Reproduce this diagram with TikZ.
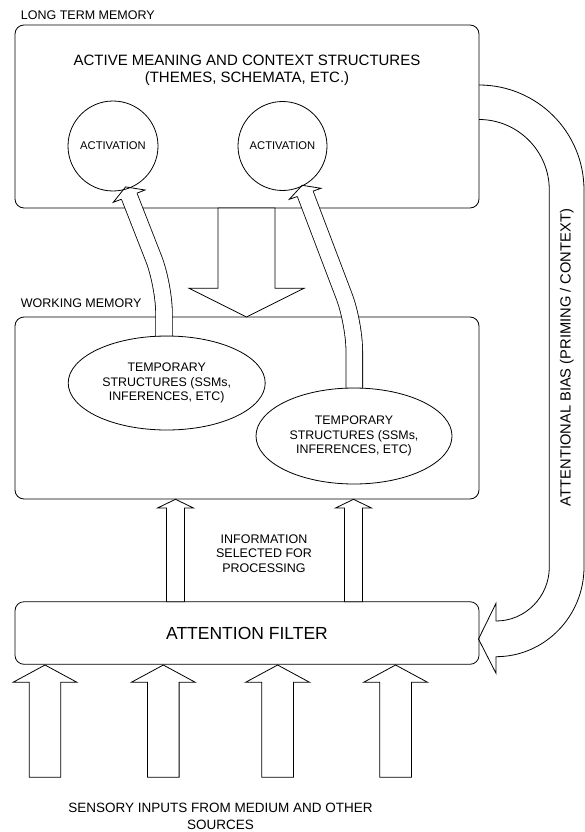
\documentclass[tikz,border=0pt]{standalone}
\usepackage{fontspec}
\setmainfont{Liberation Sans}
\usetikzlibrary{shapes.geometric}
\newcommand\fsz[2]{\fontsize{#1}{#2}\selectfont}
% block arrow: cx, tip y, head-base y, tail y, shaft half width, head half width
\newcommand\BlkArrow[6]{%
  \filldraw[fill=white] ({#1-#5},{#4}) -- ({#1-#5},{#3}) -- ({#1-#6},{#3}) -- ({#1},{#2})
    -- ({#1+#6},{#3}) -- ({#1+#5},{#3}) -- ({#1+#5},{#4}) -- cycle;}
\begin{document}
\begin{tikzpicture}[x=1pt,y=-1pt,line width=0.8pt,line join=miter,
  membox/.style={draw,rounded corners=9pt,minimum width=464pt,inner sep=0pt},
  actcirc/.style={draw,circle,inner sep=0pt,font=\fsz{11.2}{13}},
  tmpell/.style={draw,ellipse,inner sep=0pt,align=center,font=\fsz{12.4}{14.8}},
  lbl/.style={inner sep=0pt,font=\fsz{12.5}{15}},
  shaft/.style={double=white,double distance=15.8pt,rounded corners=28pt},
  headshape/.style={fill=white}]
\useasboundingbox (0,0) rectangle (585,832);

% attentional bias arrow
\filldraw[fill=white] (479,119.5) .. controls (517.8,119.5) and (549.3,151.1) .. (549.3,190)
  -- (549.3,567) .. controls (549.3,596.8) and (525.4,621) .. (496,621)
  -- (496,603.3) -- (478.5,639) -- (496,673.3) -- (496,656.7)
  .. controls (544.6,656.7) and (584,616.5) .. (584,567)
  -- (584,190) .. controls (584,132) and (537,85) .. (479,85);
\node[lbl,rotate=90,font=\fsz{14.7}{17}] (bias) at (566.7,357.5) {ATTENTIONAL BIAS (PRIMING / CONTEXT)};

% memory boxes
\node[membox,minimum height=183pt] (ltm) at (247,116.5) {};
\node[membox,minimum height=182pt] (wm) at (247,408) {};
\node[membox,minimum height=62.6pt,font=\fsz{17.5}{20}] (af) at (247,633) {ATTENTION FILTER};

\node[lbl,anchor=west] (ltmlbl) at (20.5,15) {LONG TERM MEMORY};
\node[lbl,anchor=west] (wmlbl) at (20.5,302.7) {WORKING MEMORY};
\node[inner sep=0pt,align=center,font=\fsz{15}{16.7}] (title) at (247,70) {ACTIVE MEANING AND CONTEXT STRUCTURES\\(THEMES, SCHEMATA, ETC.)};

% big down arrow LTM -> WM
\BlkArrow{246.5}{317}{288.3}{208}{28.5}{57.5}

% information selected arrows AF -> WM
\BlkArrow{175.5}{499.3}{508}{601.7}{9}{18}
\BlkArrow{353.5}{499.3}{508}{601.7}{9}{18}
\node[inner sep=0pt,align=center,font=\fsz{12.5}{14.6}] (info) at (264,553.5) {INFORMATION\\SELECTED FOR\\PROCESSING};

% sensory input arrows
\BlkArrow{45}{665}{682.3}{777.3}{15.8}{32}
\BlkArrow{163.3}{665}{682.3}{777.3}{15.8}{32}
\BlkArrow{277.6}{665}{682.3}{777.3}{15.8}{32}
\BlkArrow{395.6}{665}{682.3}{777.3}{15.8}{32}
\node[inner sep=0pt,align=center,font=\fsz{13.5}{17.3}] (sens) at (220.5,816) {SENSORY INPUTS FROM MEDIUM AND OTHER\\SOURCES};

% curved shafts from temporary structures to activations
\coordinate (s1a) at (164,336.3);
\coordinate (s1b) at (164,285);
\coordinate (s1c) at (128.5,194.3);
\draw[shaft] (s1a) -- (s1b) -- (s1c);
\filldraw[headshape] (121.5,199.2) -- (113.3,202.3) -- (125.6,186.9) -- (145,190) -- (136.9,193.2);
\coordinate (s2a) at (354.3,388);
\coordinate (s2b) at (354.3,323);
\coordinate (s2c) at (304.5,191.9);
\draw[shaft] (s2a) -- (s2b) -- (s2c);
\filldraw[headshape] (297.3,196.5) -- (289.3,199.3) -- (302.2,185.3) -- (321,188.3) -- (313.1,191.1);

% activation circles
\node[actcirc,minimum size=90pt] (act1) at (113,146) {ACTIVATION};
\node[actcirc,minimum size=89pt] (act2) at (282.5,146) {ACTIVATION};

% temporary structures
\node[tmpell,minimum width=197pt,minimum height=94pt] (tmp1) at (166.7,383) {TEMPORARY\\STRUCTURES (SSMs,\\INFERENCES, ETC)};
\node[tmpell,minimum width=196pt,minimum height=96pt] (tmp2) at (354,436) {TEMPORARY\\STRUCTURES (SSMs,\\INFERENCES, ETC)};
\end{tikzpicture}
\end{document}
